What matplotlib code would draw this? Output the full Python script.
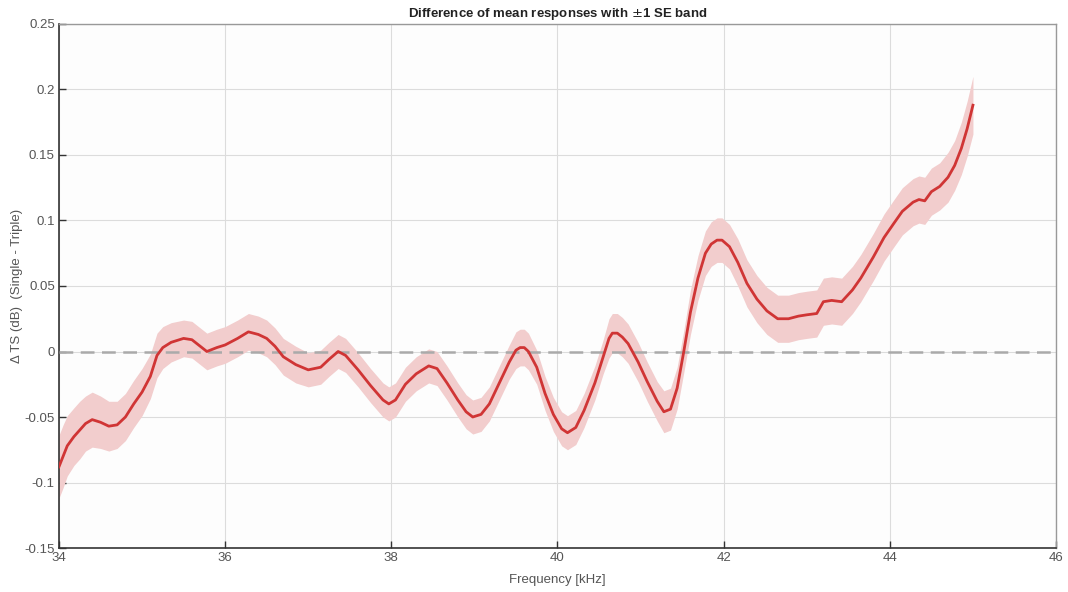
import numpy as np
import matplotlib
matplotlib.use("Agg")
import matplotlib.pyplot as plt

# mean difference (single - triple) and its standard error, per frequency
freq_khz = [
    34.00, 34.05, 34.10, 34.18, 34.25, 34.32, 34.40, 34.50, 34.60, 34.70,
    34.80, 34.90, 35.00, 35.10, 35.18, 35.25, 35.35, 35.50, 35.60, 35.70,
    35.78, 35.90, 36.00, 36.15, 36.28, 36.40, 36.50, 36.60, 36.70, 36.85,
    37.00, 37.15, 37.25, 37.36, 37.45, 37.60, 37.75, 37.90, 37.97, 38.05,
    38.17, 38.30, 38.45, 38.55, 38.67, 38.80, 38.90, 38.98, 39.08, 39.18,
    39.30, 39.42, 39.50, 39.55, 39.60, 39.65, 39.75, 39.85, 39.95, 40.05,
    40.12, 40.22, 40.32, 40.45, 40.55, 40.62, 40.66, 40.72, 40.78, 40.85,
    40.97, 41.08, 41.20, 41.28, 41.36, 41.44, 41.52, 41.60, 41.69, 41.78,
    41.85, 41.92, 41.98, 42.07, 42.17, 42.28, 42.40, 42.52, 42.65, 42.78,
    42.90, 43.00, 43.12, 43.20, 43.30, 43.42, 43.55, 43.65, 43.80, 43.93,
    44.05, 44.15, 44.28, 44.35, 44.42, 44.50, 44.60, 44.70, 44.78, 44.86,
    44.93, 45.00,
]
mean_diff = [
    -0.088, -0.080, -0.072, -0.065, -0.060, -0.055, -0.052, -0.054, -0.057, -0.056,
    -0.050, -0.040, -0.031, -0.019, -0.003, 0.003, 0.007, 0.010, 0.009, 0.004,
    0.000, 0.003, 0.005, 0.010, 0.015, 0.013, 0.010, 0.004, -0.004, -0.010,
    -0.014, -0.012, -0.006, 0.000, -0.003, -0.014, -0.026, -0.037, -0.040, -0.037,
    -0.025, -0.017, -0.011, -0.013, -0.024, -0.037, -0.046, -0.050, -0.048, -0.040,
    -0.024, -0.008, 0.001, 0.003, 0.003, 0.000, -0.012, -0.032, -0.048, -0.059,
    -0.062, -0.058, -0.045, -0.024, -0.004, 0.010, 0.014, 0.014, 0.011, 0.006,
    -0.008, -0.023, -0.038, -0.046, -0.044, -0.028, 0.000, 0.030, 0.056, 0.075,
    0.082, 0.085, 0.085, 0.080, 0.068, 0.052, 0.040, 0.031, 0.025, 0.025,
    0.027, 0.028, 0.029, 0.038, 0.039, 0.038, 0.047, 0.056, 0.072, 0.087,
    0.098, 0.107, 0.114, 0.116, 0.115, 0.122, 0.126, 0.133, 0.142, 0.155,
    0.170, 0.188,
]
se_diff = [
    0.024, 0.024, 0.023, 0.022, 0.022, 0.021, 0.021, 0.020, 0.019, 0.018,
    0.018, 0.018, 0.018, 0.017, 0.017, 0.016, 0.015, 0.014, 0.014, 0.014,
    0.014, 0.014, 0.014, 0.014, 0.014, 0.014, 0.014, 0.014, 0.014, 0.014,
    0.013, 0.013, 0.013, 0.013, 0.013, 0.013, 0.013, 0.013, 0.013, 0.013,
    0.013, 0.013, 0.013, 0.013, 0.013, 0.013, 0.013, 0.013, 0.013, 0.013,
    0.013, 0.013, 0.014, 0.014, 0.014, 0.014, 0.013, 0.013, 0.013, 0.013,
    0.013, 0.013, 0.013, 0.013, 0.013, 0.015, 0.015, 0.015, 0.015, 0.015,
    0.015, 0.015, 0.015, 0.016, 0.016, 0.016, 0.016, 0.017, 0.017, 0.017,
    0.017, 0.017, 0.017, 0.017, 0.018, 0.018, 0.018, 0.018, 0.018, 0.018,
    0.018, 0.018, 0.018, 0.018, 0.018, 0.018, 0.018, 0.018, 0.018, 0.018,
    0.018, 0.018, 0.018, 0.018, 0.018, 0.018, 0.018, 0.019, 0.019, 0.020,
    0.021, 0.022,
]
x_ticks = [34, 36, 38, 40, 42, 44, 46]
y_ticks = [-0.15, -0.1, -0.05, 0, 0.05, 0.1, 0.15, 0.2, 0.25]
y_ticklabels = ["-0.15", "-0.1", "-0.05", "0", "0.05", "0.1", "0.15", "0.2", "0.25"]

RED, PINK, GRAY = "#d03535", "#f2cdcd", "#555555"
plt.rcParams.update({
    "font.family": ["Liberation Sans", "DejaVu Sans"],
    "font.size": 9.5,
})

f = np.array(freq_khz)
m = np.array(mean_diff)
s = np.array(se_diff)

fig = plt.figure(figsize=(10.68, 5.92), dpi=100)
ax = fig.add_axes([0.0552, 0.0743, 0.9336, 0.8852])
ax.set_facecolor("#fdfdfd")

ax.fill_between(f, m - s, m + s, color=PINK, lw=0, zorder=2)
ax.axhline(0, color="#aaaaaa", lw=1.8, dashes=(5.5, 3), zorder=3)
ax.plot(f, m, color=RED, lw=2.0, zorder=4, solid_joinstyle="round")

ax.set_xlim(34, 46)
ax.set_ylim(-0.15, 0.25)
ax.set_xticks(x_ticks)
ax.set_yticks(y_ticks)
ax.set_yticklabels(y_ticklabels)
ax.grid(True, color="#dcdcdc", lw=0.8)
ax.set_axisbelow(True)
ax.tick_params(direction="in", length=5, width=1, colors="#333333",
               labelcolor=GRAY, labelsize=9.5, pad=3)
for side in ("left", "bottom"):
    ax.spines[side].set_color("#333333")
    ax.spines[side].set_linewidth(1.2)
for side in ("top", "right"):
    ax.spines[side].set_color("#999999")
    ax.spines[side].set_linewidth(1.0)

ax.set_xlabel("Frequency [kHz]", color=GRAY, fontsize=9.5, labelpad=7)
ax.set_ylabel("\u0394 TS (dB)  (Single - Triple)", color=GRAY, fontsize=9.5, labelpad=1)
ax.set_title("Difference of mean responses with $\\pm$1 SE band",
             fontsize=9.5, fontweight="bold", color="#222222", pad=5)

fig.savefig("out.png", dpi=100, facecolor="white")
